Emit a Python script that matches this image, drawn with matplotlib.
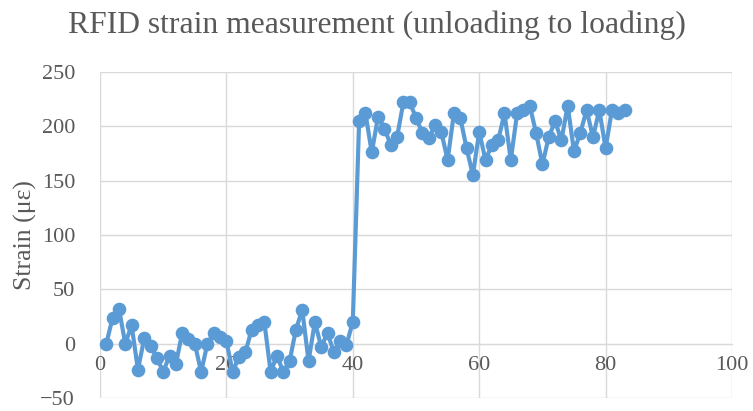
import numpy as np
import matplotlib
matplotlib.use("Agg")
import matplotlib.pyplot as plt

plt.rcParams['font.family'] = ['Liberation Serif', 'DejaVu Serif']

# readings 1..83, switch from unloading to loading after reading 40
reading = np.arange(1, 84)
strain = [
    0, 24, 32, 0, 17, -24, 5, -2, -13, -26,
    -11, -19, 10, 4, 0, -26, 0, 10, 6, 2,
    -26, -12, -8, 13, 17, 20, -26, -11, -26, -16,
    13, 31, -16, 20, -3, 10, -8, 2, -1, 20,
    205, 212, 176, 209, 198, 183, 190, 222, 222, 208,
    194, 189, 201, 195, 169, 212, 208, 180, 155, 195,
    169, 183, 187, 212, 169, 212, 215, 219, 194, 165,
    190, 205, 187, 219, 177, 194, 215, 190, 215, 180,
    215, 212, 215,
]

xticks = [0, 20, 40, 60, 80, 100]
yticks = [-50, 0, 50, 100, 150, 200, 250]

text_col = "#595959"
grid_col = "#d9d9d9"

fig = plt.figure(figsize=(7.53, 4.11), dpi=100)
ax = fig.add_axes([100 / 753, 1 - 398 / 411, 632 / 753, 326 / 411])

ax.plot(reading, strain, color="#5b9bd5", linewidth=3.0, marker="o",
        markersize=8.8, zorder=3, clip_on=False)

ax.set_xlim(0, 100)
ax.set_ylim(-50, 250)
ax.set_xticks(xticks)
ax.set_yticks(yticks)
ax.grid(True, color=grid_col, linewidth=1.0)
ax.set_axisbelow(True)

for side in ["top", "right", "left"]:
    ax.spines[side].set_visible(False)
ax.spines["bottom"].set_color(grid_col)
ax.spines["bottom"].set_position(("data", 0))

ax.tick_params(axis="both", length=0, labelsize=16, colors=text_col)
ax.tick_params(axis="x", pad=9)
ax.tick_params(axis="y", pad=18)

ax.set_ylabel("Strain (με)", fontsize=18.5, color=text_col, labelpad=2)
fig.text(0.5, 1 - 25 / 411, "RFID strain measurement (unloading to loading)",
         ha="center", va="center", fontsize=22.8, color=text_col)

fig.savefig("out.png", dpi=100)
